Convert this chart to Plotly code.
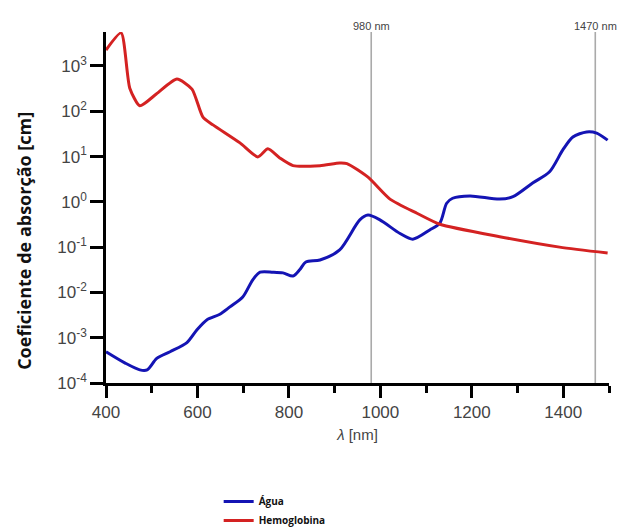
import plotly.graph_objects as go

# Hemoglobina (red) - wavelength [nm] and absorption coefficient [cm^-1]
hb_nm = [400, 433, 452, 474, 510, 555, 588, 612, 634, 693, 732, 754, 780, 809, 868, 911, 927, 973, 1021, 1080, 1130, 1261, 1392, 1497]
hb_val = [2240, 5370, 324, 132, 240, 513, 309, 74, 50, 20, 9.8, 14.8, 9.3, 6.3, 6.3, 7.2, 7.0, 3.5, 1.15, 0.56, 0.32, 0.17, 0.10, 0.074]

# Água (blue)
w_nm = [400, 442, 474, 490, 511, 540, 577, 599, 621, 649, 671, 699, 721, 737, 765, 787, 809, 824, 837, 868, 911, 955, 973, 999, 1043, 1071, 1108, 1130, 1145, 1158, 1196, 1261, 1290, 1333, 1370, 1399, 1421, 1451, 1473, 1497]
w_val = [4.9e-4, 2.75e-4, 1.95e-4, 1.95e-4, 3.5e-4, 4.9e-4, 7.8e-4, 1.5e-3, 2.5e-3, 3.3e-3, 4.8e-3, 7.9e-3, 1.9e-2, 2.8e-2, 2.8e-2, 2.7e-2, 2.3e-2, 3.2e-2, 4.7e-2, 5.2e-2, 8.7e-2, 0.40, 0.51, 0.40, 0.20, 0.15, 0.24, 0.34, 0.93, 1.2, 1.35, 1.15, 1.3, 2.6, 4.6, 14, 27, 35, 33, 23]

marker_nm = [980, 1470]
marker_labels = ["980 nm", "1470 nm"]

x_tickvals = [400, 600, 800, 1000, 1200, 1400]
y_tickvals = [1e-4, 1e-3, 1e-2, 1e-1, 1, 10, 100, 1000]
y_ticktext = ["10<sup>-4</sup>", "10<sup>-3</sup>", "10<sup>-2</sup>", "10<sup>-1</sup>",
              "10<sup>0</sup>", "10<sup>1</sup>", "10<sup>2</sup>", "10<sup>3</sup>"]

fig = go.Figure()
fig.add_trace(go.Scatter(x=w_nm, y=w_val, mode="lines", name="Água",
                         line=dict(color="#1414b4", width=3, shape="spline", smoothing=0.8)))
fig.add_trace(go.Scatter(x=hb_nm, y=hb_val, mode="lines", name="Hemoglobina",
                         line=dict(color="#d42222", width=3, shape="spline", smoothing=0.6)))

for nm, lab in zip(marker_nm, marker_labels):
    fig.add_shape(type="line", x0=nm, x1=nm, xref="x", y0=0, y1=1, yref="paper",
                  line=dict(color="#aaaaaa", width=1.6), layer="below")
    fig.add_annotation(x=nm, xref="x", y=1, yref="paper", yshift=14, text=lab,
                       showarrow=False, font=dict(family="Liberation Sans", size=11, color="#444444"))

fig.add_annotation(x=-0.163, xref="paper", xanchor="center", y=0.405, yref="paper", yanchor="middle",
                   text="Coeficiente de absorção [cm]", textangle=-90, showarrow=False,
                   font=dict(family="Open Sans", size=18, color="#111111", weight="bold"))

# page body adds an 8 px offset; compensate so the plot lands where the reference has it
fig.update_layout(
    width=619, height=523,
    margin=dict(l=98, r=18, t=24, b=148, autoexpand=False),
    paper_bgcolor="white", plot_bgcolor="white",
    showlegend=True,
    legend=dict(x=0.224, y=-0.296, xanchor="left", yanchor="top",
                font=dict(family="Open Sans", size=10, color="#111111", weight="bold"),
                tracegroupgap=0, itemwidth=30, bgcolor="rgba(0,0,0,0)"),
    xaxis=dict(range=[400, 1500], tickvals=x_tickvals, automargin=False,
               showline=True, linecolor="black", linewidth=2.5, mirror=False,
               ticks="outside", ticklen=12, tickwidth=2.5, tickcolor="black",
               minor=dict(dtick=100, ticks="outside", ticklen=7, tickwidth=2.5, tickcolor="black"),
               showgrid=False, zeroline=False,
               tickfont=dict(family="Liberation Sans", size=17, color="#444444"),
               title=dict(text="<i>λ</i> [nm]", standoff=9,
                          font=dict(family="Liberation Sans", size=15, color="#444444"))),
    yaxis=dict(type="log", range=[-4, 3.75], tickvals=y_tickvals, ticktext=y_ticktext, automargin=False,
               showline=True, linecolor="black", linewidth=2.5,
               ticks="outside", ticklen=13, tickwidth=2.5, tickcolor="black",
               showgrid=False, zeroline=False,
               tickfont=dict(family="Liberation Sans", size=17, color="#444444")),
)

fig.write_html("out.html")
